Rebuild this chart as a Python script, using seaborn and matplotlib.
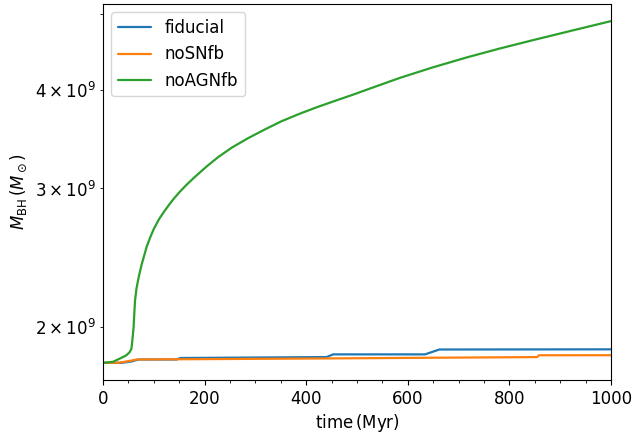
import numpy as np
import pandas as pd
import matplotlib
matplotlib.use("Agg")
import matplotlib.pyplot as plt
import seaborn as sns
from matplotlib.ticker import AutoMinorLocator

# Black-hole mass growth (units of 1e9 Msun) for the three runs
t_fiducial = [0, 35, 55, 70, 145, 152, 440, 453, 634, 662, 1000]
m_fiducial = [1.799, 1.799, 1.806, 1.817, 1.817, 1.825, 1.830, 1.8445, 1.8445, 1.871, 1.872]

t_nosnfb = [0, 30, 50, 66, 400, 855, 858, 1000]
m_nosnfb = [1.799, 1.800, 1.808, 1.817, 1.822, 1.830, 1.8397, 1.840]

t_noagnfb = [0, 20, 33, 45, 52, 56, 58, 60, 63, 66, 70, 76, 86, 93, 100, 110,
             119, 130, 140, 152, 165, 180, 204, 227, 253, 285, 318, 350, 385,
             420, 450, 490, 525, 585, 650, 716, 780, 847, 920, 1000]
m_noagnfb = [1.799, 1.805, 1.822, 1.838, 1.855, 1.876, 1.930, 1.990, 2.160, 2.240,
             2.310, 2.400, 2.530, 2.600, 2.665, 2.740, 2.796, 2.860, 2.915, 2.975,
             3.035, 3.100, 3.200, 3.290, 3.380, 3.475, 3.565, 3.650, 3.730, 3.805,
             3.865, 3.945, 4.020, 4.150, 4.280, 4.405, 4.520, 4.635, 4.760, 4.900]

run_names = ["fiducial", "noSNfb", "noAGNfb"]
run_colors = ["#1f77b4", "#ff7f0e", "#2ca02c"]

frames = []
for name, t, m in zip(run_names,
                      [t_fiducial, t_nosnfb, t_noagnfb],
                      [m_fiducial, m_nosnfb, m_noagnfb]):
    frames.append(pd.DataFrame({"time": t,
                                "mbh": np.array(m) * 1e9,
                                "run": name}))
df = pd.concat(frames, ignore_index=True)

sns.set_style("ticks")
plt.rcParams.update({
    "font.family": ["DejaVu Sans"],
    "font.size": 12,
    "text.color": "black",
    "axes.labelcolor": "black",
    "axes.edgecolor": "black",
    "axes.linewidth": 0.8,
    "xtick.color": "black",
    "ytick.color": "black",
    "xtick.major.size": 3.5,
    "ytick.major.size": 3.5,
    "xtick.minor.size": 2,
    "ytick.minor.size": 2,
    "xtick.major.width": 0.8,
    "ytick.major.width": 0.8,
    "xtick.minor.width": 0.6,
    "ytick.minor.width": 0.6,
    "axes.labelpad": 4.0,
})

fig, ax = plt.subplots(figsize=(6.34, 4.32), dpi=100)
fig.subplots_adjust(left=0.1625, right=0.9637, top=0.9907, bottom=0.1204)

sns.lineplot(data=df, x="time", y="mbh", hue="run", hue_order=run_names,
             palette=run_colors, estimator=None, sort=False, linewidth=1.6, ax=ax)

ax.set_yscale("log")
ax.set_xlim(0, 1000)
ax.xaxis.set_minor_locator(AutoMinorLocator(4))
ax.tick_params(labelsize=12)
ax.set_xlabel(r"time$\,$(Myr)", fontsize=12, labelpad=3.0)
ax.set_ylabel(r"$M_{\rm BH}\,(M_\odot)$", fontsize=12)
for s in ax.spines.values():
    s.set_visible(True)

ax.legend(loc="upper left", fontsize=12, title=None)

fig.savefig("out.png", dpi=100)
